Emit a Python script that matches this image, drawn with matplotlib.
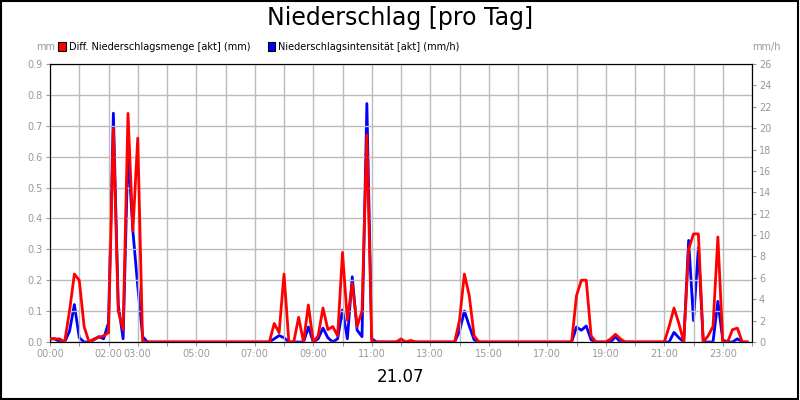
import numpy as np
import matplotlib.pyplot as plt
from matplotlib.patches import Rectangle

# 10-minute bins over the day, index = hour*6 + tenth
menge = {0: 0.01, 1: 0.01, 2: 0.01, 4: 0.1, 5: 0.22, 6: 0.2, 7: 0.05,
         9: 0.01, 10: 0.015, 11: 0.02, 12: 0.03, 13: 0.69, 14: 0.1, 15: 0.04,
         16: 0.74, 17: 0.36, 18: 0.66, 19: 0.0,
         46: 0.06, 47: 0.03, 48: 0.22, 49: 0.0, 51: 0.08, 52: 0.0, 53: 0.12,
         55: 0.02, 56: 0.11, 57: 0.04, 58: 0.05, 59: 0.02, 60: 0.29, 61: 0.07,
         62: 0.19, 63: 0.05, 64: 0.1, 65: 0.67, 66: 0.0,
         72: 0.01, 74: 0.005,
         84: 0.07, 85: 0.22, 86: 0.15, 87: 0.02,
         108: 0.15, 109: 0.2, 110: 0.2, 111: 0.02, 115: 0.01, 116: 0.025, 117: 0.01,
         127: 0.05, 128: 0.11, 129: 0.06, 131: 0.3, 132: 0.35, 133: 0.35,
         135: 0.02, 136: 0.05, 137: 0.34, 138: 0.0, 140: 0.04, 141: 0.045}
intens = {0: 0.3, 1: 0.3, 4: 1.0, 5: 3.5, 6: 0.4, 9: 0.2, 10: 0.5, 11: 0.3,
          12: 1.8, 13: 21.4, 14: 3.5, 15: 0.3, 16: 18.0, 17: 10.4, 18: 5.2, 19: 0.5,
          46: 0.3, 47: 0.6, 48: 0.4, 53: 1.4, 55: 0.3, 56: 1.3, 57: 0.4, 59: 0.3,
          60: 3.0, 61: 0.3, 62: 6.1, 63: 1.1, 64: 0.5, 65: 22.3, 66: 0.3,
          84: 1.0, 85: 2.9, 86: 1.5, 87: 0.2,
          108: 1.4, 109: 1.1, 110: 1.5, 111: 0.2, 116: 0.5,
          128: 0.9, 129: 0.4, 131: 9.5, 132: 2.0, 133: 8.8, 137: 3.8, 138: 0.2, 141: 0.3}

t = np.arange(144) / 6.0
red = np.array([menge.get(i, 0.0) for i in range(144)])
blue = np.array([intens.get(i, 0.0) for i in range(144)])
hour_ticks = [0, 2, 3, 5, 7, 9, 11, 13, 15, 17, 19, 21, 23]

fig = plt.figure(figsize=(8, 4), dpi=100)
fig.patches.append(Rectangle((0.001, 0.002), 0.997, 0.995, transform=fig.transFigure,
                             fill=False, edgecolor='black', linewidth=1.5))
ax = fig.add_axes([0.0625, 0.145, 0.8775, 0.695])
ax2 = ax.twinx()
ax.set_xlim(0, 24)
ax.set_ylim(0, 0.9)
ax2.set_ylim(0, 26)
ax.set_xticks(np.arange(0, 25))
ax.set_xticklabels(['%02d:00' % h if h in hour_ticks else '' for h in range(25)])
ax.set_yticks(np.arange(0, 0.91, 0.1))
ax.set_yticklabels(['0.0'] + ['%.1f' % v for v in np.arange(0.1, 0.91, 0.1)])
ax2.set_yticks(np.arange(0, 27, 2))
ax.grid(True, color='#bbbbbb', linewidth=1)
for a in (ax, ax2):
    a.tick_params(colors='#999999', labelsize=7, length=3, pad=2)
    for s in a.spines.values():
        s.set_color('black')

ax.plot(t, red, color='#ff0000', linewidth=2, zorder=3)
ax2.plot(t, blue, color='#0000ff', linewidth=2, zorder=2)
ax.set_zorder(2)
ax.patch.set_visible(False)

fig.text(0.5, 0.955, 'Niederschlag [pro Tag]', ha='center', va='center', fontsize=17)
fig.text(0.5, 0.058, '21.07', ha='center', va='center', fontsize=12)
fig.text(0.045, 0.875, 'mm', color='#999999', fontsize=7, ha='left')
fig.text(0.94, 0.875, 'mm/h', color='#999999', fontsize=7, ha='left')
fig.patches.append(Rectangle((0.073, 0.872), 0.009, 0.022, transform=fig.transFigure,
                             facecolor='#ff0000', edgecolor='black', linewidth=0.8))
fig.text(0.086, 0.883, 'Diff. Niederschlagsmenge [akt] (mm)', fontsize=7, va='center')
fig.patches.append(Rectangle((0.335, 0.872), 0.009, 0.022, transform=fig.transFigure,
                             facecolor='#0000ff', edgecolor='black', linewidth=0.8))
fig.text(0.348, 0.883, 'Niederschlagsintensität [akt] (mm/h)', fontsize=7, va='center')

fig.savefig('out.png', dpi=100)
